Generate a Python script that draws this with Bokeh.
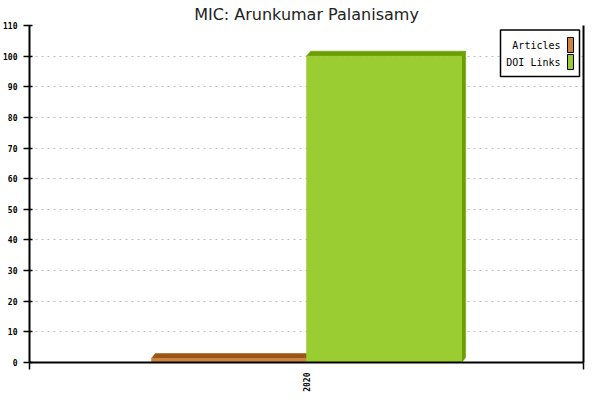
import numpy as np
from bokeh.plotting import figure
from bokeh.models import Range1d, FixedTicker, LinearAxis, BoxAnnotation, Label, ColumnDataSource
from bokeh.embed import file_html
from bokeh.resources import INLINE

# ---- data ----
years = ["2020"]
series_names = ["Articles", "DOI Links"]
articles = [0]
doi_links = [100]
y_ticks = list(range(0, 111, 10))

front_colors = ["#CD853F", "#9ACD32"]
shade_colors = ["#9B5515", "#6B9E00"]

FW, FH = 554, 337
Y_MAX = 110
n = len(years)
px_x = n / FW
px_y = Y_MAX / FH

p = figure(frame_width=FW, frame_height=FH,
           x_range=Range1d(0, n), y_range=Range1d(0, Y_MAX),
           output_backend="svg", toolbar_location=None,
           title="MIC: Arunkumar Palanisamy",
           min_border_left=22, min_border_right=7, min_border_top=0, min_border_bottom=0)
p.background_fill_color = "white"
p.border_fill_color = "white"
p.outline_line_color = None

p.title.align = "center"
p.title.text_font = "DejaVu Sans"
p.title.text_font_size = "16px"
p.title.text_font_style = "normal"
p.title.text_color = "#222222"
p.title.standoff = 4

# ---- bars (3D look) ----
bw = 0.28
dx = 4 * px_x
dy = 5 * px_y
min_front = 4 * px_y
all_series = [articles, doi_links]
for si, vals in enumerate(all_series):
    x0s, x1s, tops = [], [], []
    for ci, v in enumerate(vals):
        x0 = ci + 0.5 + (si - len(all_series) / 2) * bw
        x0s.append(x0)
        x1s.append(x0 + bw)
        tops.append(v if v > 0 else v + min_front)
    top_xs = [[a, a + dx, b + dx, b] for a, b in zip(x0s, x1s)]
    top_ys = [[t, t + dy, t + dy, t] for t in tops]
    side_xs = [[b, b + dx, b + dx, b] for b in x1s]
    side_ys = [[0, dy, t + dy, t] for t in tops]
    p.patches(top_xs, top_ys, fill_color=shade_colors[si], line_color=shade_colors[si], line_width=0.5)
    p.patches(side_xs, side_ys, fill_color=shade_colors[si], line_color=shade_colors[si], line_width=0.5)
    src = ColumnDataSource(dict(left=x0s, right=x1s, top=tops, bottom=[0] * len(tops)))
    p.quad(left="left", right="right", top="top", bottom="bottom", source=src,
           fill_color=front_colors[si], line_color=front_colors[si], line_width=0.5)

# ---- axes ----
yt = FixedTicker(ticks=y_ticks, minor_ticks=[])
p.yaxis.ticker = yt
p.yaxis.major_tick_out = 6
p.yaxis.major_tick_in = 3
p.yaxis.minor_tick_out = 0
p.yaxis.minor_tick_in = 0
p.yaxis.major_label_standoff = 6
p.yaxis.major_label_text_font = "DejaVu Sans Mono"
p.yaxis.major_label_text_font_size = "8px"
p.yaxis.major_label_text_font_style = "bold"
p.yaxis.major_label_text_color = "black"
p.yaxis.axis_line_width = 2
p.yaxis.major_tick_line_width = 1.5

xt = FixedTicker(ticks=[i + 0.5 for i in range(n)], minor_ticks=list(range(n + 1)))
p.xaxis.ticker = xt
p.xaxis.major_label_overrides = {i + 0.5: y for i, y in enumerate(years)}
p.xaxis.major_label_orientation = np.pi / 2
p.xaxis.major_tick_out = 0
p.xaxis.major_tick_in = 0
p.xaxis.minor_tick_out = 7
p.xaxis.minor_tick_in = 0
p.xaxis.minor_tick_line_width = 1.5
p.xaxis.minor_tick_line_color = "black"
p.xaxis.major_label_standoff = 3
p.xaxis.major_label_text_font = "DejaVu Sans Mono"
p.xaxis.major_label_text_font_size = "8px"
p.xaxis.major_label_text_font_style = "bold"
p.xaxis.major_label_text_color = "black"
p.xaxis.axis_line_width = 2

right_axis = LinearAxis(ticker=FixedTicker(ticks=[], minor_ticks=[]),
                        major_label_text_font_size="0px", axis_line_width=2,
                        major_tick_line_color=None, minor_tick_line_color=None)
p.add_layout(right_axis, "right")

p.xgrid.visible = False
p.ygrid.ticker = yt
p.ygrid.grid_line_color = "#bdbdbd"
p.ygrid.grid_line_dash = "2 4"
p.ygrid.grid_line_width = 1

# ---- legend (text left, swatch right) ----
XR = n
box = BoxAnnotation(left=XR - 83 * px_x, right=XR - 4 * px_x,
                    top=Y_MAX - 4.5 * px_y, bottom=Y_MAX - 51 * px_y,
                    fill_color="white", fill_alpha=1, line_color="black", line_alpha=1,
                    line_width=1.5, level="overlay")
p.add_layout(box)
for i, name in enumerate(series_names):
    yc = 20 + i * 17
    p.add_layout(Label(x=XR - 23 * px_x, y=Y_MAX - yc * px_y, text=name,
                       text_align="right", text_baseline="middle",
                       text_font="DejaVu Sans Mono", text_font_size="10px",
                       text_color="black", level="overlay"))
    p.add_layout(BoxAnnotation(left=XR - 16 * px_x, right=XR - 10 * px_x,
                               top=Y_MAX - (yc - 8) * px_y, bottom=Y_MAX - (yc + 7) * px_y,
                               fill_color=front_colors[i], fill_alpha=1,
                               line_color="black", line_alpha=1, line_width=1,
                               level="overlay"))

open("out.html", "w").write(file_html(p, INLINE))
